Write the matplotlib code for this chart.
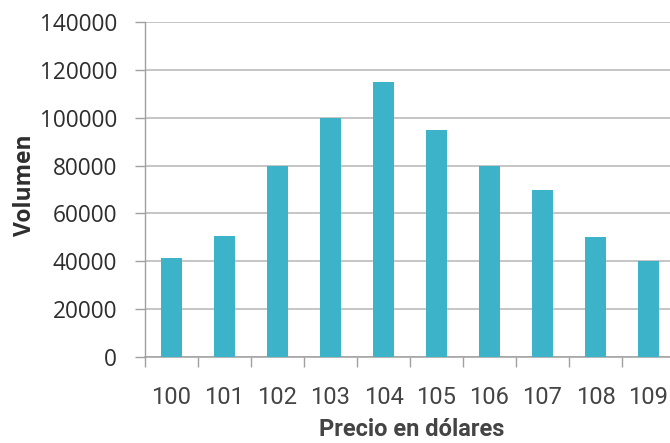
import matplotlib
matplotlib.use("Agg")
import matplotlib.pyplot as plt

categories = ["100", "101", "102", "103", "104", "105", "106", "107", "108", "109"]
volumes = [41500, 50500, 80000, 100000, 115000, 95000, 80000, 70000, 50000, 40000]
y_ticks = [0, 20000, 40000, 60000, 80000, 100000, 120000, 140000]

W, H = 670, 443
fig = plt.figure(figsize=(W / 100, H / 100), dpi=100)
left, right = 145, 675
top, bottom = 22, 357
ax = fig.add_axes([left / W, 1 - bottom / H, (right - left) / W, (bottom - top) / H])

x = list(range(len(categories)))
ax.bar(x, volumes, width=0.4, color="#3db3c9", zorder=3)
ax.set_xlim(-0.5, len(categories) - 0.5)
ax.set_ylim(0, 140000)
ax.set_yticks(y_ticks)
ax.set_yticklabels([str(v) for v in y_ticks], fontsize=16.3, color="#2e2e2e",
                   family=["Open Sans", "DejaVu Sans"])
ax.yaxis.grid(True, color="#b5b5b5", linewidth=1.1, zorder=0)
ax.tick_params(axis="y", length=7, color="#a0a0a0", width=1, pad=13)

# Category labels (centered) and tick marks between categories
ax.set_xticks([i + 0.5 for i in x[:-1]] + [-0.5], minor=False)
ax.set_xticklabels([])
ax.tick_params(axis="x", length=7, color="#a0a0a0", width=1)
for i, lab in zip(x, categories):
    ax.text(i, -0.122, lab, transform=ax.get_xaxis_transform(), ha="center", va="center",
            fontsize=17, color="#444444", family=["Roboto", "DejaVu Sans"])
ax.text((412 - left) / (right - left), -0.215, "Precio en dólares",
        transform=ax.transAxes, ha="center", va="center", fontsize=17,
        fontweight="bold", color="#444444", family=["Roboto", "DejaVu Sans"])
ax.text(25 / W, 1 - 185 / H, "Volumen", transform=fig.transFigure, rotation=90,
        ha="center", va="center", fontsize=16.5, fontweight="bold", color="#2e2e2e",
        family=["Open Sans", "DejaVu Sans"])

for s in ["top", "right"]:
    ax.spines[s].set_visible(False)
ax.spines["left"].set_color("#a0a0a0")
ax.spines["bottom"].set_color("#a0a0a0")
ax.spines["left"].set_linewidth(1)
ax.spines["bottom"].set_linewidth(1.1)

fig.savefig("out.png", dpi=100, facecolor="white")
